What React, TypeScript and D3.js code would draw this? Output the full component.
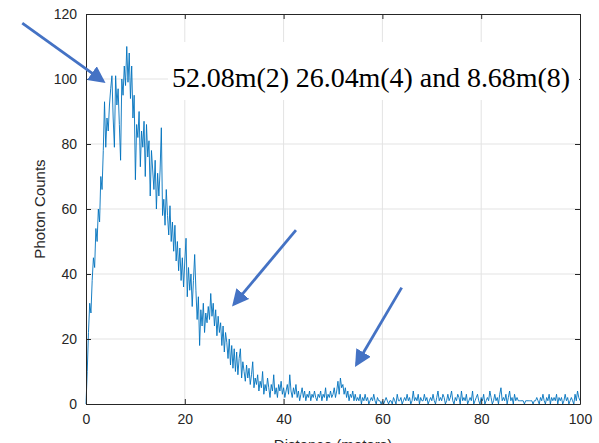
import React, { useEffect, useRef } from 'react';
import * as d3 from 'd3';

// photon counts sampled every 0.25 m, 0..100 m
const step = 0.25;
const counts: number[] = [
  0, 10, 22, 31, 28, 38, 45, 42, 54, 50, 60, 56, 70, 66, 78, 93, 79, 88, 84, 92,
  97, 101, 88, 79, 101, 92, 97, 86, 75, 100, 95, 104, 98, 110, 99, 108, 94, 104, 88, 95,
  69, 86, 82, 90, 73, 84, 79, 87, 70, 86, 76, 81, 64, 78, 72, 66, 75, 60, 71, 64,
  72, 85, 58, 63, 55, 66, 58, 52, 61, 50, 56, 47, 55, 44, 50, 41, 48, 38, 45, 36,
  44, 51, 33, 42, 35, 40, 30, 38, 46, 35, 26, 33, 18, 29, 24, 31, 22, 28, 25, 30,
  26, 34, 27, 31, 24, 29, 21, 27, 22, 25, 18, 24, 16, 22, 19, 14, 20, 12, 18, 11,
  17, 10, 16, 9, 14, 17, 8, 13, 10, 7, 12, 8, 11, 6, 9, 13, 5, 8, 6, 9,
  4, 7, 5, 10, 3, 6, 4, 8, 5, 2, 6, 4, 9, 3, 5, 2, 6, 4, 7, 3,
  5, 2, 4, 6, 3, 9, 4, 2, 5, 3, 6, 2, 4, 1, 3, 5, 2, 4, 1, 3,
  2, 4, 1, 3, 2, 4, 2, 1, 3, 2, 4, 1, 3, 2, 5, 1, 3, 2, 4, 2,
  3, 5, 2, 4, 7, 3, 8, 5, 6, 3, 5, 2, 4, 1, 3, 2, 4, 1, 3, 1,
  2, 1, 3, 0, 2, 1, 3, 1, 2, 0, 1, 2, 1, 3, 1, 0, 2, 1, 1, 0,
  1, 0, 1, 2, 1, 0, 1, 1, 0, 2, 1, 0, 3, 1, 1, 2, 0, 1, 2, 1,
  3, 1, 2, 0, 1, 4, 1, 2, 1, 3, 0, 2, 1, 1, 3, 1, 2, 0, 1, 2,
  1, 3, 1, 0, 2, 4, 1, 2, 1, 3, 2, 0, 1, 3, 1, 2, 4, 1, 0, 2,
  1, 3, 2, 0, 4, 1, 2, 1, 3, 0, 1, 2, 1, 4, 0, 1, 2, 3, 1, 0,
  2, 1, 3, 0, 1, 2, 1, 4, 2, 0, 1, 3, 1, 2, 0, 3, 5, 1, 2, 1,
  3, 0, 2, 4, 1, 2, 0, 3, 1, 2, 1, 1, 1, 1, 1, 0, 1, 1, 1, 1,
  1, 1, 0, 1, 1, 2, 1, 0, 2, 1, 3, 1, 0, 2, 1, 3, 0, 2, 1, 2,
  1, 3, 0, 2, 1, 2, 0, 1, 3, 1, 2, 0, 1, 2, 1, 0, 3, 1, 4, 2,
  1,
];

const xTicks = [0, 20, 40, 60, 80, 100];
const yTicks = [0, 20, 40, 60, 80, 100, 120];
const note = '52.08m(2) 26.04m(4) and 8.68m(8)';

// arrows: [x1, y1, x2, y2] in data units
const arrows: number[][] = [
  [-12.9, 117.2, 3.4, 99.4],
  [42.5, 53.5, 30.0, 30.8],
  [63.9, 35.8, 54.8, 12.3],
];

export default function App() {
  const ref = useRef<SVGSVGElement>(null);

  useEffect(() => {
    const width = 599;
    const height = 443;
    const margin = { top: 14, right: 19, bottom: 39, left: 86 };

    const svg = d3.select(ref.current);
    svg.selectAll('*').remove();

    const x = d3.scaleLinear().domain([0, 100]).range([margin.left, width - margin.right]);
    const y = d3.scaleLinear().domain([0, 120]).range([height - margin.bottom, margin.top]);

    const axisColor = '#262626';

    // grid
    const grid = svg.append('g');
    grid.selectAll('.gx')
      .data(xTicks.slice(1, -1))
      .enter().append('line')
      .attr('x1', d => x(d)).attr('x2', d => x(d))
      .attr('y1', y(0)).attr('y2', y(120))
      .attr('stroke', '#e3e3e3').attr('stroke-width', 1);
    grid.selectAll('.gy')
      .data(yTicks.slice(1, -1))
      .enter().append('line')
      .attr('x1', x(0)).attr('x2', x(100))
      .attr('y1', d => y(d)).attr('y2', d => y(d))
      .attr('stroke', '#e3e3e3').attr('stroke-width', 1);

    // data line
    const line = d3.line<number>()
      .x((d, i) => x(i * step))
      .y(d => y(d));
    svg.append('path')
      .datum(counts)
      .attr('d', line)
      .attr('fill', 'none')
      .attr('stroke', '#0072BD')
      .attr('stroke-width', 0.9)
      .attr('stroke-linejoin', 'round');

    // box and ticks
    const plotH = y(0) - y(120);
    const plotW = x(100) - x(0);
    const xAxisB = d3.axisBottom(x).tickValues(xTicks).tickSizeInner(-5).tickSizeOuter(0).tickPadding(10);
    const xAxisT = d3.axisTop(x).tickValues(xTicks).tickSizeInner(-5).tickSizeOuter(0).tickFormat(() => '');
    const yAxisL = d3.axisLeft(y).tickValues(yTicks).tickSizeInner(-5).tickSizeOuter(0).tickPadding(9);
    const yAxisR = d3.axisRight(y).tickValues(yTicks).tickSizeInner(-5).tickSizeOuter(0).tickFormat(() => '');

    const styleAxis = (g: any) => {
      g.selectAll('path').attr('stroke', axisColor).attr('stroke-width', 1);
      g.selectAll('line').attr('stroke', axisColor);
      g.selectAll('text')
        .attr('fill', axisColor)
        .style('font-family', 'Liberation Sans, Arial, sans-serif')
        .style('font-size', '14px');
    };

    svg.append('g').attr('transform', `translate(0,${y(0)})`).call(xAxisB).call(styleAxis);
    svg.append('g').attr('transform', `translate(0,${y(120)})`).call(xAxisT).call(styleAxis);
    svg.append('g').attr('transform', `translate(${x(0)},0)`).call(yAxisL).call(styleAxis);
    svg.append('g').attr('transform', `translate(${x(100)},0)`).call(yAxisR).call(styleAxis);

    // axis labels (x label is partly clipped by the frame, as in the original)
    svg.append('text')
      .attr('x', x(0) + plotW / 2)
      .attr('y', height + 7)
      .attr('text-anchor', 'middle')
      .attr('fill', axisColor)
      .style('font-family', 'Liberation Sans, Arial, sans-serif')
      .style('font-size', '15px')
      .text('Distance (meters)');

    svg.append('text')
      .attr('transform', `translate(45,${y(120) + plotH / 2}) rotate(-90)`)
      .attr('text-anchor', 'middle')
      .attr('fill', axisColor)
      .style('font-family', 'Liberation Sans, Arial, sans-serif')
      .style('font-size', '15px')
      .text('Photon Counts');

    // annotation box
    svg.append('rect')
      .attr('x', 168).attr('y', 42)
      .attr('width', x(100) - 1 - 168).attr('height', 58)
      .attr('fill', 'white');
    svg.append('text')
      .attr('x', 172).attr('y', 87)
      .attr('fill', '#000')
      .attr('textLength', 398)
      .attr('lengthAdjust', 'spacing')
      .style('font-family', 'Liberation Serif, Times New Roman, serif')
      .style('font-size', '28px')
      .text(note);

    // arrows
    const defs = svg.append('defs');
    defs.append('marker')
      .attr('id', 'head')
      .attr('viewBox', '0 0 10 10')
      .attr('refX', 8).attr('refY', 5)
      .attr('markerWidth', 6).attr('markerHeight', 6)
      .attr('markerUnits', 'strokeWidth')
      .attr('orient', 'auto')
      .append('path')
      .attr('d', 'M0,0 L10,5 L0,10 Z')
      .attr('fill', '#4472C4');

    svg.selectAll('.arrow')
      .data(arrows)
      .enter().append('line')
      .attr('x1', d => x(d[0])).attr('y1', d => y(d[1]))
      .attr('x2', d => x(d[2])).attr('y2', d => y(d[3]))
      .attr('stroke', '#4472C4')
      .attr('stroke-width', 2.8)
      .attr('marker-end', 'url(#head)');
  }, []);

  return (
    <svg ref={ref} width={599} height={443}
      style={{ position: 'absolute', left: 0, top: 0, background: 'white' }} />
  );
}
